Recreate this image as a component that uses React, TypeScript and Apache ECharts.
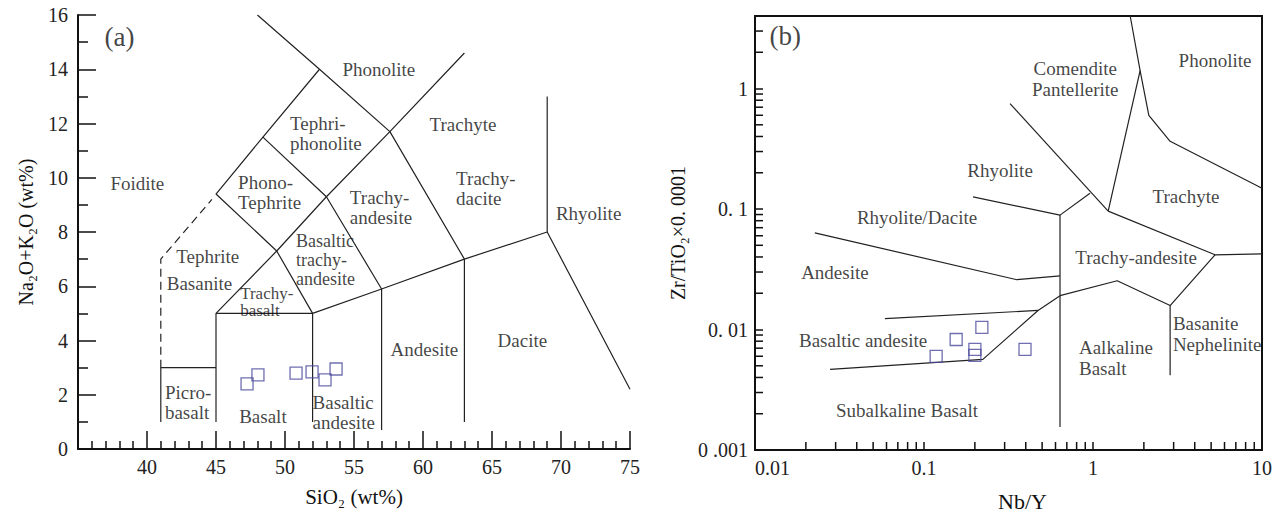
import React, { useEffect, useRef } from 'react';
import * as echarts from 'echarts';

const FONT = "'Liberation Serif', 'Times New Roman', serif";
const INK = '#111';
const SAMPLE_COLOR = '#4a4a9c';

// ---------- Panel (a): TAS diagram ----------
const SIO2_RANGE = [35, 75];
const ALK_RANGE = [0, 16];

const TAS_SOLID: number[][][] = [
  [[41, 1], [41, 3], [45, 3]],
  [[45, 1], [45, 5], [52, 5], [52, 1]],
  [[45, 5], [49.4, 7.3], [53, 9.3], [57.6, 11.7], [63, 14.6]],
  [[52, 5], [49.4, 7.3], [45, 9.4], [48.4, 11.5], [52.5, 14], [48, 16]],
  [[52, 5], [57, 5.9], [63, 7], [69, 8], [75, 2.2]],
  [[57, 0.7], [57, 5.9], [53, 9.3], [48.4, 11.5]],
  [[63, 1], [63, 7], [57.6, 11.7], [52.5, 14]],
  [[69, 8], [69, 13]],
];
const TAS_DASHED: number[][] = [[41, 3], [41, 7], [44.7, 9.2]];

const TAS_LABELS = [
  { t: '(a)', x: 38.0, y: 15.2 },
  { t: 'Foidite', x: 39.3, y: 9.8 },
  { t: 'Phono-\nTephrite', x: 46.6, y: 9.45 },
  { t: 'Tephri-\nphonolite', x: 50.36, y: 11.62 },
  { t: 'Phonolite', x: 56.8, y: 14.0 },
  { t: 'Trachyte', x: 62.9, y: 11.96 },
  { t: 'Trachy-\ndacite', x: 62.4, y: 9.6 },
  { t: 'Trachy-\nandesite', x: 54.7, y: 8.9 },
  { t: 'Rhyolite', x: 72.0, y: 8.7 },
  { t: 'Tephrite', x: 44.4, y: 7.1 },
  { t: 'Basanite', x: 43.8, y: 6.1 },
  { t: 'Basaltic\ntrachy-\nandesite', x: 50.8, y: 6.97 },
  { t: 'Trachy-\nbasalt', x: 46.75, y: 5.43 },
  { t: 'Picro-\nbasalt', x: 41.3, y: 1.7 },
  { t: 'Basalt', x: 48.4, y: 1.18 },
  { t: 'Basaltic\nandesite', x: 52.0, y: 1.33 },
  { t: 'Andesite', x: 60.1, y: 3.65 },
  { t: 'Dacite', x: 67.2, y: 3.99 },
];

const SAMPLE_SIO2 = [47.25, 48.04, 50.8, 51.96, 52.9, 53.7];
const SAMPLE_ALK = [2.4, 2.73, 2.8, 2.84, 2.55, 2.95];

// ---------- Panel (b): Zr/TiO2 vs Nb/Y ----------
const NBY_RANGE = [0.01, 10];
const ZRTI_RANGE = [0.001, 4];
const NBY_TICK_TEXT: Record<string, string> = { '-2': '0.01', '-1': '0.1', '0': '1', '1': '10' };
const ZRTI_TICK_TEXT: Record<string, string> = { '-3': '0 .001', '-2': '0. 01', '-1': '0. 1', '0': '1' };
const MINOR_STEPS = [2, 3, 4, 5, 6, 7, 8, 9];
const NBY_DECADES = [0.01, 0.1, 1];
const ZRTI_DECADES = [0.001, 0.01, 0.1, 1];

const WF_LINES: number[][][] = [
  [[1.66, 4], [1.9, 1.41], [2.14, 0.6], [2.86, 0.365], [10, 0.149]],
  [[1.9, 1.41], [1.23, 0.096]],
  [[0.323, 0.75], [1.23, 0.096]],
  [[0.195, 0.126], [0.638, 0.089], [0.96, 0.135]],
  [[0.638, 0.089], [0.638, 0.00155]],
  [[0.0226, 0.0634], [0.355, 0.0259], [0.638, 0.0279]],
  [[0.638, 0.0191], [1.39, 0.0254], [2.86, 0.0158], [5.27, 0.0417]],
  [[2.86, 0.0158], [2.86, 0.00417]],
  [[1.23, 0.096], [5.27, 0.0417], [10, 0.0425]],
  [[0.0587, 0.0123], [0.473, 0.0144]],
  [[0.0278, 0.00467], [0.223, 0.00565], [0.473, 0.0144], [0.638, 0.0191]],
];

const WF_LABELS = [
  { t: '(b)', x: 0.0151, y: 2.74 },
  { t: 'Phonolite', x: 5.27, y: 1.7 },
  { t: 'Comendite\nPantellerite', x: 0.785, y: 1.2 },
  { t: 'Rhyolite', x: 0.282, y: 0.21 },
  { t: 'Rhyolite/Dacite', x: 0.091, y: 0.0843 },
  { t: 'Trachyte', x: 3.55, y: 0.128 },
  { t: 'Trachy-andesite', x: 1.8, y: 0.0394 },
  { t: 'Andesite', x: 0.0297, y: 0.0296 },
  { t: 'Basaltic andesite', x: 0.0436, y: 0.0081 },
  { t: 'Subalkaline Basalt', x: 0.0793, y: 0.00214 },
  { t: 'Aalkaline\nBasalt', x: 0.826, y: 0.0058 },
  { t: 'Basanite\nNephelinite', x: 2.97, y: 0.00918 },
];

const SAMPLE_NBY = [0.118, 0.155, 0.22, 0.2, 0.2, 0.396];
const SAMPLE_ZRTI = [0.00598, 0.00826, 0.0104, 0.00684, 0.0061, 0.00684];

// label styling (kept separate from data)
const LEFT_ALIGNED = new Set([
  'Phono-\nTephrite', 'Tephri-\nphonolite', 'Trachy-\ndacite', 'Trachy-\nandesite',
  'Basaltic\ntrachy-\nandesite', 'Trachy-\nbasalt', 'Picro-\nbasalt', 'Basaltic\nandesite',
  'Aalkaline\nBasalt', 'Basanite\nNephelinite',
]);
const LINE_HEIGHTS: Record<string, number> = {
  'Trachy-\nbasalt': 17,
  'Basaltic\ntrachy-\nandesite': 19,
  'Comendite\nPantellerite': 21,
  'Aalkaline\nBasalt': 21,
  'Basanite\nNephelinite': 21,
};
const FONT_SIZES: Record<string, number> = {
  '(a)': 27,
  '(b)': 27,
  'Trachy-\nbasalt': 17,
  'Basaltic\ntrachy-\nandesite': 18,
};

function lineSeries(pts: number[][], axis: number, dashed = false) {
  return {
    type: 'line',
    xAxisIndex: axis,
    yAxisIndex: axis,
    data: pts,
    symbol: 'none',
    silent: true,
    z: 2,
    lineStyle: { color: '#222', width: 1.2, type: dashed ? [8, 5] : 'solid' },
  };
}

function textSeries(labels: { t: string; x: number; y: number }[], axis: number) {
  return {
    type: 'scatter',
    xAxisIndex: axis,
    yAxisIndex: axis,
    symbolSize: 1,
    silent: true,
    z: 5,
    itemStyle: { color: 'rgba(0,0,0,0)' },
    data: labels.map((l) => ({
      name: l.t,
      value: [l.x, l.y],
      label: {
        show: true,
        position: 'inside',
        formatter: '{b}',
        color: INK,
        fontFamily: FONT,
        fontSize: FONT_SIZES[l.t] ?? 19,
        lineHeight: LINE_HEIGHTS[l.t] ?? 20,
        align: LEFT_ALIGNED.has(l.t) ? 'left' : 'center',
        verticalAlign: 'middle',
      },
    })),
  };
}

function sampleSeries(xs: number[], ys: number[], axis: number) {
  return {
    type: 'scatter',
    xAxisIndex: axis,
    yAxisIndex: axis,
    symbol: 'rect',
    symbolSize: 12,
    silent: true,
    z: 4,
    itemStyle: { color: 'rgba(255,255,255,0)', borderColor: SAMPLE_COLOR, borderWidth: 1.3 },
    data: xs.map((x, i) => [x, ys[i]]),
  };
}

function minorTickSeries(points: number[][], dir: 'x' | 'y') {
  return {
    type: 'custom',
    xAxisIndex: 1,
    yAxisIndex: 1,
    silent: true,
    clip: false,
    z: 6,
    data: points,
    renderItem: (_p: any, api: any) => {
      const c = api.coord([api.value(0), api.value(1)]);
      const shape =
        dir === 'x'
          ? { x1: c[0], y1: c[1], x2: c[0], y2: c[1] - 8 }
          : { x1: c[0], y1: c[1], x2: c[0] + 8, y2: c[1] };
      return { type: 'line', shape, style: { stroke: '#111', lineWidth: 1.5 } };
    },
  };
}

const axisLine = { onZero: false, lineStyle: { color: '#111', width: 2 } };
const tickStyle = { color: '#111', width: 1.5 };
const labelBase = { color: '#222', fontFamily: FONT, fontSize: 20 };
const nameBase = { color: '#111', fontFamily: FONT, fontSize: 21 };

function logKey(v: number) {
  const l = Math.log10(v);
  const r = Math.round(l);
  return Math.abs(l - r) < 1e-6 ? String(r) : null;
}

export default function App() {
  const ref = useRef<HTMLDivElement>(null);

  useEffect(() => {
    const chart = echarts.init(ref.current!, null, { renderer: 'svg' });

    const xMinor: number[][] = [];
    NBY_DECADES.forEach((d) => MINOR_STEPS.forEach((s) => xMinor.push([d * s, ZRTI_RANGE[0]])));
    const yMinor: number[][] = [];
    ZRTI_DECADES.forEach((d) =>
      MINOR_STEPS.forEach((s) => {
        if (d * s < ZRTI_RANGE[1]) yMinor.push([NBY_RANGE[0], d * s]);
      })
    );

    const option: any = {
      animation: false,
      backgroundColor: '#fff',
      textStyle: { fontFamily: FONT },
      grid: [
        { left: 78, top: 15, width: 552, height: 434, show: false },
        { left: 755, top: 16, width: 507, height: 437, show: true, borderColor: '#111', borderWidth: 2, backgroundColor: 'rgba(0,0,0,0)' },
      ],
      xAxis: [
        {
          gridIndex: 0,
          type: 'value',
          min: SIO2_RANGE[0],
          max: SIO2_RANGE[1],
          interval: 5,
          splitLine: { show: false },
          axisLine,
          axisTick: { inside: true, length: 18, lineStyle: tickStyle },
          minorTick: { show: true, splitNumber: 5, length: 8, lineStyle: tickStyle },
          axisLabel: { ...labelBase, margin: 8, formatter: (v: number) => (v === SIO2_RANGE[0] ? '' : String(v)) },
          name: 'SiO₂ (wt%)',
          nameLocation: 'middle',
          nameGap: 37,
          nameTextStyle: nameBase,
        },
        {
          gridIndex: 1,
          type: 'log',
          logBase: 10,
          min: NBY_RANGE[0],
          max: NBY_RANGE[1],
          splitLine: { show: false },
          minorSplitLine: { show: false },
          axisLine,
          axisTick: { inside: true, length: 8, lineStyle: tickStyle },
          axisLabel: {
            ...labelBase,
            margin: 8,
            alignMinLabel: 'left',
            formatter: (v: number) => {
              const k = logKey(v);
              return k !== null && NBY_TICK_TEXT[k] ? NBY_TICK_TEXT[k] : '';
            },
          },
          name: 'Nb/Y',
          nameLocation: 'middle',
          nameGap: 40,
          nameTextStyle: { ...nameBase, fontSize: 22, padding: [0, 0, 0, 28] },
        },
      ],
      yAxis: [
        {
          gridIndex: 0,
          type: 'value',
          min: ALK_RANGE[0],
          max: ALK_RANGE[1],
          interval: 2,
          splitLine: { show: false },
          axisLine,
          axisTick: { inside: true, length: 18, lineStyle: tickStyle },
          minorTick: { show: true, splitNumber: 2, length: 10, lineStyle: tickStyle },
          axisLabel: { ...labelBase, margin: 10 },
          name: 'Na₂O+K₂O (wt%)',
          nameLocation: 'middle',
          nameGap: 42,
          nameTextStyle: { ...nameBase, fontSize: 20 },
        },
        {
          gridIndex: 1,
          type: 'log',
          logBase: 10,
          min: ZRTI_RANGE[0],
          max: ZRTI_RANGE[1],
          splitLine: { show: false },
          minorSplitLine: { show: false },
          axisLine,
          axisTick: { inside: true, length: 8, lineStyle: tickStyle },
          axisLabel: {
            ...labelBase,
            margin: 7,
            formatter: (v: number) => {
              const k = logKey(v);
              return k !== null && ZRTI_TICK_TEXT[k] ? ZRTI_TICK_TEXT[k] : '';
            },
          },
          name: 'Zr/TiO₂×0. 0001',
          nameLocation: 'middle',
          nameGap: 67,
          nameTextStyle: { ...nameBase, fontSize: 20 },
        },
      ],
      series: [
        ...TAS_SOLID.map((p) => lineSeries(p, 0)),
        lineSeries(TAS_DASHED, 0, true),
        textSeries(TAS_LABELS, 0),
        sampleSeries(SAMPLE_SIO2, SAMPLE_ALK, 0),
        ...WF_LINES.map((p) => lineSeries(p, 1)),
        textSeries(WF_LABELS, 1),
        sampleSeries(SAMPLE_NBY, SAMPLE_ZRTI, 1),
        minorTickSeries(xMinor, 'x'),
        minorTickSeries(yMinor, 'y'),
      ],
    };

    chart.setOption(option);
    return () => chart.dispose();
  }, []);

  return (
    <div
      ref={ref}
      style={{ position: 'absolute', left: 0, top: 0, width: 1286, height: 517, background: '#fff' }}
    />
  );
}
